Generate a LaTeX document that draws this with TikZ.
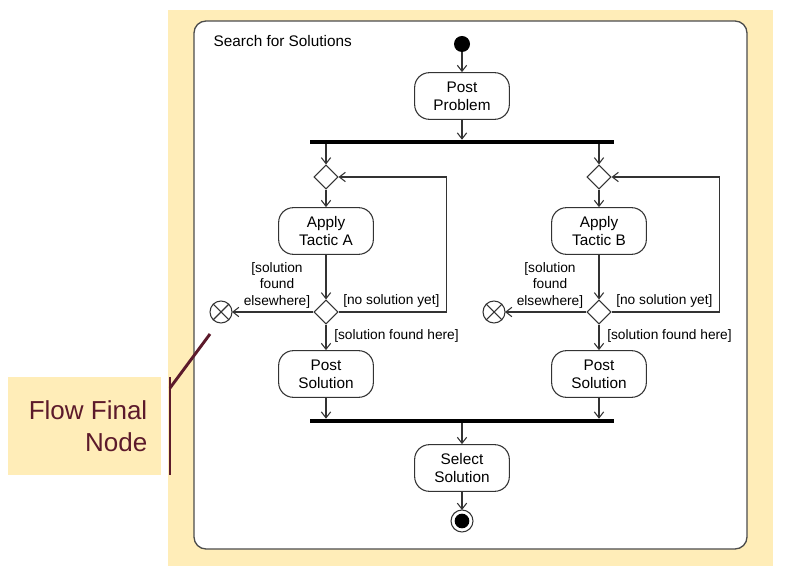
\documentclass[tikz,border=0pt]{standalone}
\usepackage{fontspec}
\setmainfont{Liberation Sans}
\usetikzlibrary{arrows.meta,shapes.geometric}
\definecolor{notebg}{HTML}{FFEDB8}
\definecolor{noteink}{HTML}{5C1A2B}
\begin{document}
\begin{tikzpicture}
[x=0.75pt,y=-0.75pt,
actnode/.style={rectangle,rounded corners=11pt,draw=black!80,thick,fill=white,
  minimum width=71pt,minimum height=35pt,inner sep=1pt,align=center,
  font=\fontsize{11.5}{13.5}\selectfont},
decnode/.style={diamond,draw=black!80,thick,fill=white,inner sep=0pt,minimum width=18pt,minimum height=18pt},
barnode/.style={rectangle,fill=black,inner sep=0pt,minimum width=228pt,minimum height=3pt},
endnode/.style={circle,draw=black!80,thick,inner sep=0pt,minimum size=16.5pt,outer sep=0pt},
guard/.style={inner sep=0pt,align=center,font=\fontsize{10.3}{12.4}\selectfont},
flow/.style={draw=black!80,thick,-{Straight Barb[length=4.5pt,width=7pt]}}]
\useasboundingbox (0,0) rectangle (785,580);
% background and frame
\fill[notebg] (168,10) rectangle (773,566);
\draw[black!70,line width=1pt,fill=white,rounded corners=9pt] (194,21) rectangle (747,549);
\node[anchor=west,font=\fontsize{11.5}{13.5}\selectfont] (title) at (209,41) {Search for Solutions};

% start, fork
\node (start) at (462,44) [circle,fill=black,inner sep=0pt,minimum size=12pt] {};
\node (pp) at (462,96) [actnode] {Post\\Problem};
\node (fork) at (462,142) [barnode] {};

% left branch
\node (mrgA) at (326,177) [decnode] {};
\node (actA) at (326,231) [actnode] {Apply\\Tactic A};
\node (decA) at (326,312) [decnode] {};
\node (ffA) at (221,312) [endnode] {};
\node (postA) at (326,374) [actnode] {Post\\Solution};

% right branch
\node (mrgB) at (599,177) [decnode] {};
\node (actB) at (599,231) [actnode] {Apply\\Tactic B};
\node (decB) at (599,312) [decnode] {};
\node (ffB) at (494,312) [endnode] {};
\node (postB) at (599,374) [actnode] {Post\\Solution};

% join, end
\node (join) at (462,421) [barnode] {};
\node (sel) at (462,468) [actnode] {Select\\Solution};
\node (fin) at (462,521) [endnode] {};
\node at (fin) [circle,fill=black,inner sep=0pt,minimum size=11pt] {};

% guards
\node (gA1) at (277,285) [guard] {[solution\\found\\elsewhere]};
\node (gA2) at (343,301) [guard,anchor=west] {[no solution yet]};
\node (gA3) at (334,336) [guard,anchor=west] {[solution found here]};
\node (gB1) at (550,285) [guard] {[solution\\found\\elsewhere]};
\node (gB2) at (616,301) [guard,anchor=west] {[no solution yet]};
\node (gB3) at (607,336) [guard,anchor=west] {[solution found here]};

% flows
\draw[flow] (start) -- (pp);
\draw[flow] (pp) -- (fork.north);
\draw[flow] (mrgA |- fork.south) -- (mrgA);
\draw[flow] (mrgB |- fork.south) -- (mrgB);
\draw[flow] (mrgA) -- (actA);
\draw[flow] (mrgB) -- (actB);
\draw[flow] (actA) -- (decA);
\draw[flow] (actB) -- (decB);
\draw[flow] (decA.east) -- ++(108,0) |- (mrgA.east);
\draw[flow] (decB.east) -- ++(108,0) |- (mrgB.east);
\draw[flow] (decA.west) -- (ffA.east);
\draw[flow] (decB.west) -- (ffB.east);
\draw[flow] (decA) -- (postA);
\draw[flow] (decB) -- (postB);
\draw[flow] (postA) -- (postA |- join.north);
\draw[flow] (postB) -- (postB |- join.north);
\draw[flow] (join.south) -- (sel);
\draw[flow] (sel) -- (fin);
\draw[black!80,thick] (ffA.north west) -- (ffA.south east) (ffA.north east) -- (ffA.south west);
\draw[black!80,thick] (ffB.north west) -- (ffB.south east) (ffB.north east) -- (ffB.south west);

% callout
\node (note) at (84.5,426) [rectangle,fill=notebg,minimum width=115pt,minimum height=73.5pt] {};
\node (notetext) at (152,426) [anchor=east,align=right,text=noteink,
  font=\fontsize{19.5}{24}\selectfont] {Flow Final\\Node};
\coordinate (notetip) at (210,334);
\draw[noteink,line width=2.2pt] (170,377) -- (170,475);
\draw[noteink,line width=2.2pt] (170,388) -- (notetip);
\end{tikzpicture}
\end{document}
